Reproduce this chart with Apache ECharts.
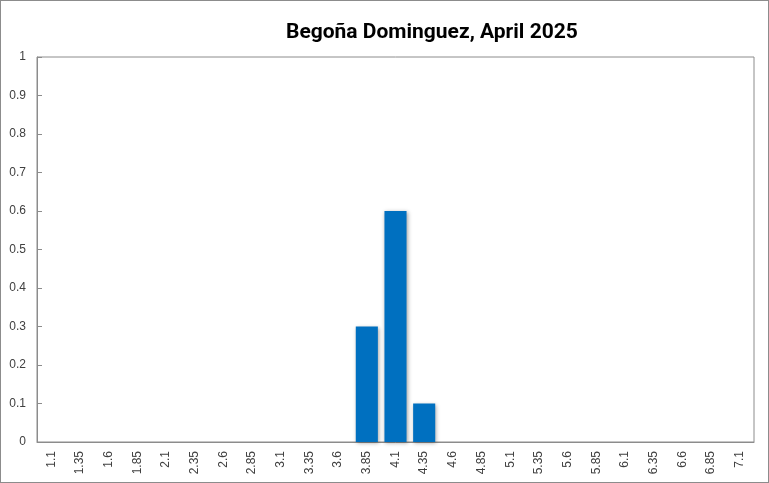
<!DOCTYPE html>
<html>
<head>
<meta charset="utf-8">
<script src="https://cdn.jsdelivr.net/npm/echarts@6/dist/echarts.min.js"></script>
<style>
  html, body { margin: 0; padding: 0; background: #fff; }
  #chart { width: 769px; height: 483px; box-sizing: border-box; border: 1px solid #8c8c8c; }
</style>
</head>
<body>
<div id="chart"></div>
<script>
// ===== data
const titleText = 'Begoña Dominguez, April 2025';
const categories = ['1.1', '1.35', '1.6', '1.85', '2.1', '2.35', '2.6', '2.85', '3.1', '3.35', '3.6',
    '3.85', '4.1', '4.35', '4.6', '4.85', '5.1', '5.35', '5.6', '5.85', '6.1', '6.35', '6.6', '6.85', '7.1'];
const shares = [0, 0, 0, 0, 0, 0, 0, 0, 0, 0, 0,
    0.3, 0.6, 0.1, 0, 0, 0, 0, 0, 0, 0, 0, 0, 0, 0];
const yMin = 0, yMax = 1, yStep = 0.1;

var chart = echarts.init(document.getElementById('chart'));
option = {
    animation: false,
    title: {
        text: titleText,
        left: 280,
        top: 16,
        textStyle: {
            fontFamily: 'Roboto',
            fontWeight: 'bold',
            fontSize: 21,
            color: '#000'
        }
    },
    grid: {
        left: 36,
        top: 56,
        right: 14,
        bottom: 40,
        show: true,
        borderColor: '#8c8c8c',
        borderWidth: 1
    },
    xAxis: {
        type: 'category',
        data: categories,
        boundaryGap: true,
        axisLine: { lineStyle: { color: '#8c8c8c' } },
        axisTick: {
            inside: true,
            length: 4,
            interval: 0,
            lineStyle: { color: '#8c8c8c' }
        },
        axisLabel: {
            rotate: 90,
            interval: 0,
            margin: 9,
            fontFamily: 'Liberation Sans',
            fontSize: 12,
            color: '#404040'
        },
        splitLine: { show: false }
    },
    yAxis: {
        type: 'value',
        min: yMin,
        max: yMax,
        interval: yStep,
        axisLine: { show: true, lineStyle: { color: '#8c8c8c' } },
        axisTick: {
            show: true,
            inside: true,
            length: 5,
            lineStyle: { color: '#8c8c8c' }
        },
        axisLabel: {
            margin: 11,
            fontFamily: 'Liberation Sans',
            fontSize: 12,
            color: '#404040'
        },
        splitLine: { show: false }
    },
    series: [{
        type: 'bar',
        data: shares,
        barCategoryGap: '23%',
        itemStyle: {
            color: '#0070C0',
            shadowBlur: 4,
            shadowColor: 'rgba(0,0,0,0.35)',
            shadowOffsetX: 1,
            shadowOffsetY: 1
        }
    }]
};
chart.setOption(option);
</script>
</body>
</html>
